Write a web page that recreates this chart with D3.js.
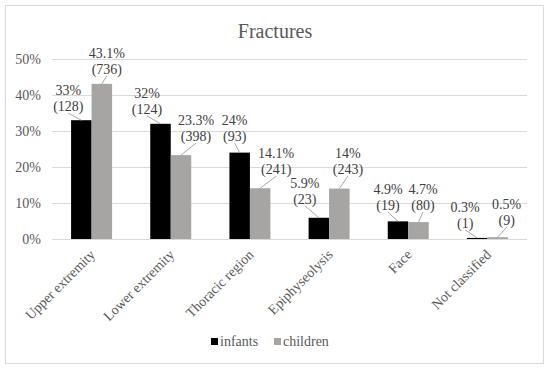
<!DOCTYPE html>
<html><head><meta charset="utf-8">
<script src="https://cdn.jsdelivr.net/npm/d3@7"></script>
<style>body{margin:0;background:#fff}svg{display:block}svg text,svg tspan{font-family:"Liberation Serif",serif !important}</style>
</head><body>
<script>
const title = "Fractures";
const categories = ["Upper extremity","Lower extremity","Thoracic region","Epiphyseolysis","Face","Not classified"];
const seriesNames = ["infants","children"];
const infantsPct = [33, 32, 24, 5.9, 4.9, 0.3];
const infantsN = [128, 124, 93, 23, 19, 1];
const childrenPct = [43.1, 23.3, 14.1, 14, 4.7, 0.5];
const childrenN = [736, 398, 241, 243, 80, 9];
const yTicks = [0, 10, 20, 30, 40, 50];
// label offsets (dx, dy) of the data label from the bar top centre
const infantsLabelOffset = [[-13,-30],[-13.5,-31],[-5,-32.5],[-14,-35],[-10,-32],[-12,-31]];
const childrenLabelOffset = [[5,-31],[15,-35],[16,-35],[8.6,-35.6],[4.5,-33],[9,-33]];
const colors = {infants:"#000000", children:"#a7a5a4"};
const FONT = "Liberation Serif, Times New Roman, serif";

const W = 550, H = 369;
const svg = d3.select("body").append("svg").attr("width", W).attr("height", H)
  .attr("font-family", FONT);
svg.append("rect").attr("x",5.5).attr("y",5.5).attr("width",538).attr("height",358)
  .attr("fill","#fff").attr("stroke","#d9d9d9").attr("stroke-width",1);

const x0 = d3.scaleBand().domain(categories).range([52, 527]).padding(0);
const groupW = 41;
const x1 = d3.scaleBand().domain(seriesNames)
  .range([(x0.bandwidth()-groupW)/2, (x0.bandwidth()+groupW)/2]).padding(0);
const y = d3.scaleLinear().domain([0, 50]).range([239, 59]);

svg.append("text").attr("x", 275).attr("y", 38).attr("text-anchor","middle")
  .attr("font-family", FONT).attr("font-size", 20).attr("fill","#595959").text(title);

// grid
const gridG = svg.append("g").attr("transform","translate(52,0)")
  .call(d3.axisLeft(y).tickValues(yTicks).tickSize(-475).tickFormat(d => d + "%"));
gridG.attr("font-family", FONT);
gridG.select(".domain").remove();
gridG.selectAll(".tick line").attr("stroke","#d9d9d9").attr("stroke-width",1);
gridG.selectAll(".tick text").attr("x",-11).attr("font-size",14).attr("fill","#595959")
  .attr("font-family", FONT);

const series = [
  {name:"infants", pct: infantsPct, n: infantsN, off: infantsLabelOffset},
  {name:"children", pct: childrenPct, n: childrenN, off: childrenLabelOffset}
];

series.forEach(s => {
  const data = categories.map((c,i) => ({c, v:s.pct[i], n:s.n[i], off:s.off[i]}));
  const g = svg.append("g");
  g.selectAll("rect").data(data).join("rect")
    .attr("x", d => x0(d.c) + x1(s.name))
    .attr("width", x1.bandwidth())
    .attr("y", d => y(d.v))
    .attr("height", d => y(0) - y(d.v))
    .attr("fill", colors[s.name]);
  const cx = d => x0(d.c) + x1(s.name) + x1.bandwidth()/2;
  g.selectAll("line.leader").data(data).join("line").attr("class","leader")
    .attr("x1", d => cx(d)).attr("y1", d => y(d.v))
    .attr("x2", d => cx(d) + d.off[0]).attr("y2", d => y(d.v) + d.off[1] + 23)
    .attr("stroke","#a6a6a6").attr("stroke-width",1);
  const t = g.selectAll("text.lbl").data(data).join("text").attr("class","lbl")
    .attr("text-anchor","middle").attr("font-size",14).attr("fill","#404040")
    .attr("font-family", FONT);
  t.append("tspan").attr("x", d => cx(d) + d.off[0]).attr("y", d => y(d.v) + d.off[1] + 5)
    .text(d => d.v + "%");
  t.append("tspan").attr("x", d => cx(d) + d.off[0]).attr("y", d => y(d.v) + d.off[1] + 21)
    .text(d => "(" + d.n + ")");
});

// x labels
svg.append("g").selectAll("text").data(categories).join("text")
  .attr("transform", d => `translate(${x0(d) + x0.bandwidth()/2 + 1},${252}) rotate(-45)`)
  .attr("text-anchor","end").attr("dy","0.35em")
  .attr("font-family", FONT).attr("font-size",14).attr("fill","#595959").text(d => d);

// legend
const leg = svg.append("g");
const legItems = [{name:"infants", x:211},{name:"children", x:274}];
legItems.forEach(it => {
  leg.append("rect").attr("x", it.x).attr("y", 338).attr("width",7).attr("height",7).attr("fill", colors[it.name]);
  leg.append("text").attr("x", it.x + 9).attr("y", 346).attr("font-family", FONT)
    .attr("font-size",14).attr("fill","#595959").text(it.name);
});
</script>
</body></html>
